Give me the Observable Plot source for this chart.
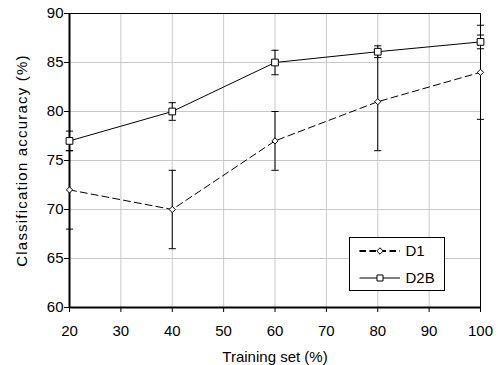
<!DOCTYPE html>
<html>
<head>
<meta charset="utf-8">
<script src="https://cdn.jsdelivr.net/npm/d3@7"></script>
<script src="https://cdn.jsdelivr.net/npm/@observablehq/plot@0.6"></script>
<style>
  body { margin: 0; background: #fff; }
  #chart { width: 498px; height: 365px; }
</style>
</head>
<body>
<div id="chart"></div>
<script>
// Data
const trainingSet = [20, 40, 60, 80, 100];
const d1Acc  = [72, 70, 77, 81, 84];
const d1Err  = [4, 4, 3, 5, 4.8];
const d2bAcc = [77, 80, 85, 86.1, 87.1];
const d2bErr = [1, 0.9, 1.25, 0.6, 0.7];
const xTicks = [20, 30, 40, 50, 60, 70, 80, 90, 100];
const yTicks = [60, 65, 70, 75, 80, 85, 90];
const seriesNames = ["D1", "D2B"];
const xTitle = "Training set (%)";
const yTitle = "Classification accuracy (%)";

const d1 = trainingSet.map((x, i) => ({x, y: d1Acc[i], lo: d1Acc[i] - d1Err[i], hi: d1Acc[i] + d1Err[i]}));
const d2b = trainingSet.map((x, i) => ({x, y: d2bAcc[i], lo: d2bAcc[i] - d2bErr[i], hi: d2bAcc[i] + d2bErr[i]}));
const all = d1.concat(d2b);

// horizontal cap symbol for error bars
const capSymbol = {
  draw(context, size) {
    const r = Math.sqrt(size / Math.PI);
    context.moveTo(-r, 0);
    context.lineTo(r, 0);
  }
};

const font = "'Liberation Sans', Arial, sans-serif";

const chart = Plot.plot({
  width: 498,
  height: 365,
  marginLeft: 69,
  marginRight: 18,
  marginTop: 13,
  marginBottom: 58,
  style: {fontFamily: font, background: "#fff", color: "#000"},
  x: {domain: [20, 100]},
  y: {domain: [60, 90]},
  marks: [
    Plot.gridX(xTicks, {stroke: "#c8c8c8", strokeOpacity: 1}),
    Plot.gridY(yTicks, {stroke: "#c8c8c8", strokeOpacity: 1}),
    Plot.axisX(xTicks, {tickSize: 5, tickPadding: 13, fontSize: 15, label: null, stroke: "#000"}),
    Plot.axisY(yTicks, {tickSize: 5, tickPadding: 1, fontSize: 15, label: null, stroke: "#000"}),
    Plot.ruleY([90], {stroke: "#000", strokeWidth: 1}),
    Plot.ruleX([100], {stroke: "#000", strokeWidth: 1}),
    // error bars
    Plot.ruleX(all, {x: "x", y1: "lo", y2: "hi", stroke: "#000", strokeWidth: 1}),
    Plot.dot(all, {x: "x", y: "lo", symbol: capSymbol, r: 3.6, stroke: "#000", fill: "none", strokeWidth: 1}),
    Plot.dot(all, {x: "x", y: "hi", symbol: capSymbol, r: 3.6, stroke: "#000", fill: "none", strokeWidth: 1}),
    // lines
    Plot.line(d1, {x: "x", y: "y", stroke: "#000", strokeWidth: 1, strokeDasharray: "7,4"}),
    Plot.line(d2b, {x: "x", y: "y", stroke: "#000", strokeWidth: 1}),
    // axis lines
    Plot.ruleX([20], {stroke: "#000", strokeWidth: 2}),
    Plot.ruleY([60], {stroke: "#000", strokeWidth: 2}),
    // markers
    Plot.dot(d1, {x: "x", y: "y", symbol: "diamond2", r: 2.8, fill: "#fff", stroke: "#000", strokeWidth: 1}),
    Plot.dot(d2b, {x: "x", y: "y", symbol: "square", r: 3.8, fill: "#fff", stroke: "#000", strokeWidth: 1}),
    // axis titles
    Plot.text([xTitle], {frameAnchor: "bottom", dy: 49.5, lineAnchor: "middle", textAnchor: "middle", fontSize: 15, fill: "#000"}),
    Plot.text([yTitle], {frameAnchor: "left", dx: -47.5, rotate: -90, lineAnchor: "middle", textAnchor: "middle", fontSize: 15, fill: "#000"})
  ]
});

document.getElementById("chart").appendChild(chart);

const svg = d3.select(chart);
// the reference's rotated title is drawn slightly wider
svg.selectAll("text").filter(function() { return this.textContent === yTitle; })
  .attr("letter-spacing", "1.2px");

// Legend inside the plot area
const g = svg.append("g").attr("font-family", font).attr("font-size", 15).attr("text-anchor", "start");
const lx = 349.5, ly = 237.5, lw = 95, lh = 53;
g.append("rect").attr("x", lx).attr("y", ly).attr("width", lw).attr("height", lh)
  .attr("fill", "#fff").attr("stroke", "#000").attr("stroke-width", 1);
const rows = [
  {name: seriesNames[0], dash: "6.5,3.5", sw: 2, sym: d3.symbolDiamond2, size: 26},
  {name: seriesNames[1], dash: null, sw: 1, sym: d3.symbolSquare, size: 36}
];
rows.forEach((r, i) => {
  const y = ly + 13.5 + i * 27;
  const line = g.append("line").attr("x1", lx + 10).attr("x2", lx + 50.5).attr("y1", y).attr("y2", y)
    .attr("stroke", "#000").attr("stroke-width", r.sw);
  if (r.dash) line.attr("stroke-dasharray", r.dash);
  g.append("path").attr("d", d3.symbol(r.sym, r.size)()).attr("transform", `translate(${lx + 30.5},${y})`)
    .attr("fill", "#fff").attr("stroke", "#000").attr("stroke-width", 1);
  g.append("text").attr("x", lx + 56).attr("y", y).attr("dy", "0.35em").attr("fill", "#000").text(r.name);
});
</script>
</body>
</html>
